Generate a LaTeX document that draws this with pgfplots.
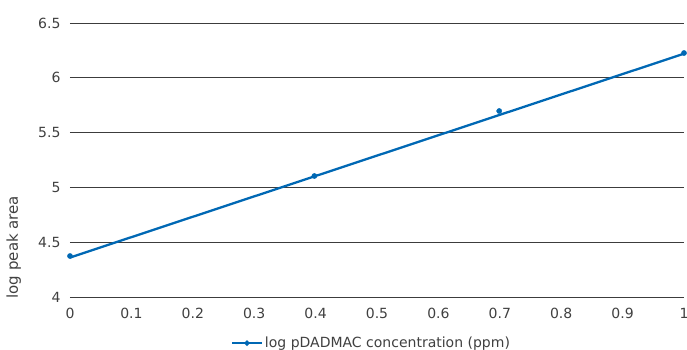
\documentclass[border=0pt]{standalone}
\usepackage{pgfplots}
\pgfplotsset{compat=1.18}
\usepackage{fontspec}
\setmainfont{DejaVu Sans}
\definecolor{ser}{RGB}{0,104,180}
\definecolor{gridc}{RGB}{60,60,60}
\definecolor{txt}{RGB}{64,64,64}
\begin{document}
\begin{tikzpicture}
\useasboundingbox (-70bp,-53bp) rectangle (617bp,297bp);
\begin{axis}[
  at={(0,0)}, anchor=south west,
  scale only axis, width=614bp, height=274bp,
  xmin=0, xmax=1, ymin=4, ymax=6.5,
  xtick={0,0.1,...,1}, ytick={4,4.5,...,6.5},
  xticklabels={0,0.1,0.2,0.3,0.4,0.5,0.6,0.7,0.8,0.9,1},
  yticklabels={4,4.5,5,5.5,6,6.5},
  axis line style={draw=none}, major tick length=0pt,
  ymajorgrids, grid style={gridc, line width=0.7pt},
  tick label style={font=\fontsize{14bp}{16bp}\selectfont, text=txt},
  /pgf/number format/assume math mode=true,
  xticklabel style={yshift=-8bp},
  yticklabel style={xshift=-6bp},
  ylabel={log peak area},
  ylabel style={font=\fontsize{15bp}{17bp}\selectfont, text=txt, at={(axis description cs:-0.074,0.182)}, anchor=south},
  legend style={draw=none, at={(0.491,-0.168)}, anchor=center, font=\fontsize{14bp}{16bp}\selectfont, text=txt, legend columns=1},
  legend cell align=left,
  legend image code/.code={
    \draw[#1, mark repeat=2, mark phase=2] plot coordinates {(0bp,0bp) (15bp,0bp) (30bp,0bp)};
  },
]
\addlegendimage{ser, line width=2pt, mark=*, mark size=1.6pt, mark options={fill=ser,draw=ser}}
\addlegendentry{log pDADMAC concentration (ppm)}
\addplot[ser, line width=2.3pt, no marks, forget plot] coordinates {(0,4.36) (1,6.22)};
\addplot[only marks, mark=*, mark size=2.6pt, color=ser, fill=ser, forget plot] coordinates {
(0,4.374) (0.398,5.104) (0.699,5.697) (1,6.226)};
\end{axis}
\end{tikzpicture}
\end{document}
